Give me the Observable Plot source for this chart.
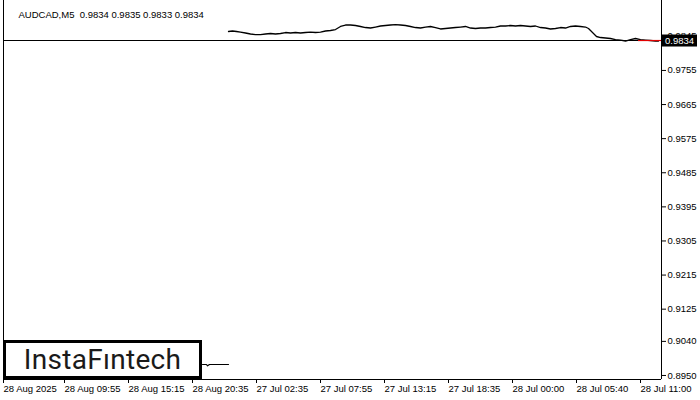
<!DOCTYPE html>
<html>
<head>
<meta charset="utf-8">
<script src="https://cdn.jsdelivr.net/npm/d3@7"></script>
<script src="https://cdn.jsdelivr.net/npm/@observablehq/plot@0.6"></script>
<style>
  html, body { margin: 0; padding: 0; background: #fff; }
  #wrap { position: relative; width: 700px; height: 400px; overflow: hidden; }
  #logo {
    position: absolute; left: 3px; top: 340px; width: 193px; height: 33px;
    border: 3px solid #000; background: #fff;
    font-family: Roboto, "Noto Sans", sans-serif; font-weight: 400; font-size: 28px;
    line-height: 34px; text-align: center; color: #1a1a1a; letter-spacing: 0.3px;
  }
</style>
</head>
<body>
<div id="wrap"></div>
<script>
const title = "AUDCAD,M5  0.9834 0.9835 0.9833 0.9834";
const lastPrice = 0.9834;

const xTickBars = [0, 64, 128, 192, 256, 320, 384, 448, 512, 576, 640];
const xTickLabels = ["28 Aug 2025", "28 Aug 09:55", "28 Aug 15:15", "28 Aug 20:35", "27 Jul 02:35",
  "27 Jul 07:55", "27 Jul 13:15", "27 Jul 18:35", "28 Jul 00:00", "28 Jul 05:40", "28 Jul 11:00"];
const yTicks = [0.9845, 0.9755, 0.9665, 0.9575, 0.9485, 0.9395, 0.9305, 0.9215, 0.9125, 0.9040, 0.8950];

// early (isolated) segment near the bottom
const earlyBars = [199, 203, 204, 206, 225];
const earlyClose = [0.8979, 0.8979, 0.89755, 0.8979, 0.8979];

// main close series (bar index, close)
const mainBars = [225, 229, 233, 237, 242, 247, 252, 257, 262, 267, 272, 277, 282, 287, 292, 297, 302, 307, 312, 317,
  322, 327, 332, 337, 342, 347, 352, 357, 362, 367, 372, 377, 382, 387, 392, 397, 402, 407, 412, 417,
  422, 427, 432, 437, 442, 447, 452, 457, 462, 467, 472, 477, 482, 487, 492, 497, 502, 507, 512, 517,
  522, 527, 532, 537, 542, 547, 552, 557, 562, 567, 572, 577, 582, 585, 587, 590, 593, 597, 602, 607,
  612, 617, 622, 627, 632, 637, 642, 647, 652, 655];
const mainClose = [0.98578, 0.98591, 0.98578, 0.98564, 0.98538, 0.98512, 0.98498, 0.98498, 0.98512, 0.98525,
  0.98512, 0.98525, 0.98551, 0.98538, 0.98551, 0.98538, 0.98551, 0.98564, 0.98551, 0.98564,
  0.98591, 0.98604, 0.98630, 0.98710, 0.98749, 0.98749, 0.98736, 0.98710, 0.98683, 0.98670,
  0.98696, 0.98723, 0.98736, 0.98749, 0.98762, 0.98749, 0.98736, 0.98710, 0.98683, 0.98670,
  0.98696, 0.98710, 0.98683, 0.98644, 0.98657, 0.98670, 0.98683, 0.98696, 0.98710, 0.98670,
  0.98657, 0.98670, 0.98670, 0.98683, 0.98696, 0.98723, 0.98723, 0.98736, 0.98723, 0.98736,
  0.98723, 0.98710, 0.98723, 0.98683, 0.98670, 0.98644, 0.98657, 0.98683, 0.98670, 0.98710,
  0.98723, 0.98710, 0.98696, 0.98657, 0.98604, 0.98525, 0.98446, 0.98419, 0.98406, 0.98393,
  0.98366, 0.98353, 0.98327, 0.98366, 0.98393, 0.98366, 0.98353, 0.98340, 0.98327, 0.98327];

const early = earlyBars.map((b, i) => ({bar: b, close: earlyClose[i]}));
const main = mainBars.map((b, i) => ({bar: b, close: mainClose[i]}));

const xDomain = [0, 658];
const yDomain = [0.89394, 0.99396];
const font = "'Liberation Sans', Arial, sans-serif";

const priceBox = (index, scales, values, dims) => {
  const g = d3.create("svg:g");
  const py = scales.y(lastPrice);
  const x0 = dims.width - dims.marginRight;
  g.append("rect").attr("x", x0).attr("y", py - 5.5).attr("width", 36).attr("height", 12).attr("fill", "#000");
  g.append("text").attr("x", x0 + 4).attr("y", py + 0.5).attr("dy", "0.35em").attr("text-anchor", "start")
    .attr("fill", "#fff").attr("font-size", 9.5).attr("font-family", font).text(lastPrice.toFixed(4));
  return g.node();
};

const chart = Plot.plot({
  width: 700, height: 400,
  marginLeft: 3, marginRight: 39, marginTop: 0, marginBottom: 21,
  x: {domain: xDomain, axis: null, label: null},
  y: {domain: yDomain, axis: null, label: null},
  style: {fontFamily: font, fontSize: "9.5px", background: "#fff", color: "#000"},
  marks: [
    Plot.ruleY([lastPrice], {stroke: "#000", strokeWidth: 1}),
    Plot.line(early, {x: "bar", y: "close", stroke: "#000", strokeWidth: 1.2}),
    Plot.line(main, {x: "bar", y: "close", stroke: "#000", strokeWidth: 1.3}),
    Plot.ruleY([lastPrice], {x1: 635, x2: 658, stroke: "#e00000", strokeWidth: 1.2}),
    Plot.ruleX(xDomain, {stroke: "#000"}),
    Plot.ruleY([yDomain[0]], {stroke: "#000"}),
    Plot.axisX({
      ticks: xTickBars.slice(0, 1), tickSize: 4, tickPadding: 2, textAnchor: "start", dx: 0, label: null,
      tickFormat: d => xTickLabels[xTickBars.indexOf(d)]
    }),
    Plot.axisX({
      ticks: xTickBars.slice(1), tickSize: 4, tickPadding: 2, textAnchor: "start", dx: -3, label: null,
      tickFormat: d => xTickLabels[xTickBars.indexOf(d)]
    }),
    Plot.axisY({
      ticks: yTicks, anchor: "right", tickSize: 4, tickPadding: 2, textAnchor: "start", label: null,
      tickFormat: d => d.toFixed(4)
    }),
    priceBox,
    Plot.text([title], {frameAnchor: "top-left", dx: 15, dy: 11, textAnchor: "start", fill: "#000", fontSize: 9.5})
  ]
});

const wrap = document.getElementById("wrap");
wrap.appendChild(chart);
const logo = document.createElement("div");
logo.id = "logo";
logo.textContent = "InstaFıntech";
wrap.appendChild(logo);
</script>
</body>
</html>
